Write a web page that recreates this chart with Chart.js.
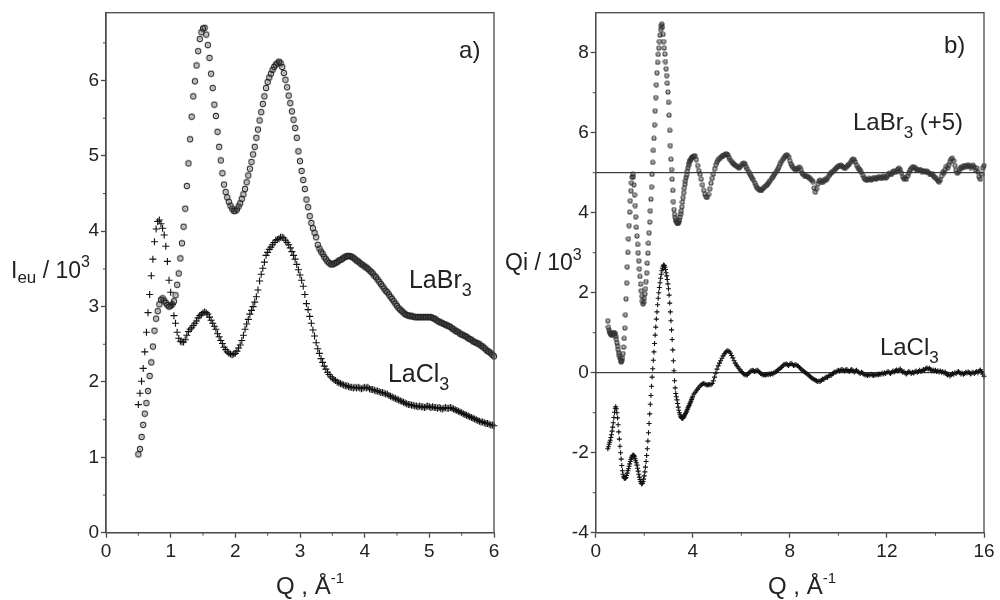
<!DOCTYPE html>
<html>
<head>
<meta charset="utf-8">
<title>LaBr3 / LaCl3 scattering</title>
<script src="https://cdn.jsdelivr.net/npm/chart.js@4"></script>
<style>
  html, body { margin: 0; padding: 0; background: #fff; }
  #wrap { position: relative; width: 1000px; height: 600px; }
  #wrap canvas { position: absolute; top: 0; }
  #panelA { left: 0; }
  #panelB { left: 500px; }
</style>
</head>
<body>
<div id="wrap">
  <canvas id="panelA" width="500" height="600"></canvas>
  <canvas id="panelB" width="500" height="600"></canvas>
</div>
<script>
const FONT = "'Liberation Sans', Arial, Helvetica, sans-serif";
const INK = '#222';
const AXIS = '#4a4a4a';

// ---- panel a): intensity in electron units, Q from 0.5 in steps of 0.025 ----
const qStartA = 0.5, qStepA = 0.025;
const ieuLaBr3 = [
  1.04,1.11,1.27,1.43,1.58,1.72,1.88,2.08,2.26,2.47,
  2.68,2.84,2.94,3.03,3.09,3.11,3.08,3.05,3.02,3.00,
  3.01,3.03,3.07,3.15,3.29,3.44,3.64,3.84,4.06,4.30,
  4.60,4.90,5.22,5.52,5.79,5.99,6.20,6.39,6.55,6.64,
  6.69,6.70,6.61,6.47,6.30,6.09,5.90,5.68,5.53,5.32,
  5.12,4.94,4.77,4.62,4.52,4.45,4.39,4.34,4.30,4.27,
  4.27,4.29,4.33,4.37,4.43,4.49,4.56,4.65,4.74,4.83,
  4.92,5.02,5.12,5.24,5.35,5.47,5.58,5.69,5.79,5.90,
  5.98,6.04,6.09,6.14,6.18,6.21,6.23,6.25,6.23,6.18,
  6.10,6.01,5.91,5.80,5.70,5.59,5.48,5.37,5.24,5.06,
  4.93,4.80,4.68,4.56,4.42,4.32,4.20,4.11,4.04,3.98,
  3.92,3.82,3.77,3.73,3.70,3.66,3.63,3.60,3.58,3.56,
  3.56,3.57,3.58,3.59,3.61,3.62,3.63,3.65,3.66,3.67,
  3.67,3.67,3.66,3.65,3.63,3.61,3.60,3.58,3.56,3.55,
  3.53,3.52,3.50,3.48,3.46,3.44,3.41,3.39,3.36,3.33,
  3.30,3.27,3.24,3.21,3.19,3.16,3.13,3.10,3.07,3.04,
  3.01,2.98,2.96,2.94,2.92,2.90,2.89,2.88,2.88,2.87,
  2.87,2.86,2.86,2.86,2.86,2.86,2.86,2.86,2.86,2.86,
  2.86,2.86,2.85,2.84,2.83,2.81,2.80,2.79,2.78,2.77,
  2.76,2.75,2.74,2.73,2.71,2.70,2.68,2.67,2.66,2.64,
  2.63,2.62,2.61,2.60,2.58,2.57,2.56,2.54,2.53,2.52,
  2.51,2.50,2.48,2.47,2.45,2.43,2.41,2.40,2.38,2.36,
  2.34
];
const ieuLaCl3 = [
  1.70,1.85,2.01,2.18,2.40,2.66,2.92,3.16,3.41,3.63,
  3.86,4.03,4.13,4.15,4.10,4.04,3.95,3.80,3.60,3.35,
  3.19,3.03,2.88,2.78,2.66,2.58,2.54,2.53,2.53,2.56,
  2.62,2.67,2.70,2.72,2.75,2.78,2.81,2.85,2.88,2.90,
  2.92,2.93,2.92,2.90,2.86,2.82,2.78,2.74,2.70,2.64,
  2.60,2.55,2.51,2.46,2.43,2.40,2.38,2.37,2.36,2.37,
  2.38,2.41,2.45,2.49,2.55,2.62,2.70,2.77,2.83,2.90,
  2.95,3.00,3.06,3.13,3.22,3.34,3.43,3.51,3.59,3.68,
  3.72,3.76,3.79,3.82,3.85,3.88,3.89,3.90,3.92,3.92,
  3.91,3.88,3.85,3.82,3.78,3.73,3.68,3.63,3.56,3.49,
  3.42,3.35,3.27,3.16,3.04,2.96,2.87,2.78,2.69,2.61,
  2.52,2.44,2.38,2.31,2.26,2.21,2.17,2.13,2.10,2.07,
  2.05,2.03,2.02,2.00,1.99,1.98,1.97,1.96,1.95,1.95,
  1.94,1.93,1.93,1.92,1.93,1.92,1.93,1.92,1.91,1.92,
  1.93,1.92,1.93,1.91,1.90,1.90,1.89,1.88,1.88,1.87,
  1.86,1.86,1.85,1.84,1.84,1.82,1.81,1.80,1.79,1.78,
  1.77,1.76,1.75,1.74,1.73,1.72,1.71,1.70,1.70,1.69,
  1.69,1.68,1.68,1.67,1.68,1.67,1.67,1.66,1.67,1.68,
  1.67,1.66,1.67,1.66,1.66,1.65,1.66,1.65,1.64,1.65,
  1.66,1.65,1.65,1.66,1.65,1.64,1.63,1.62,1.61,1.60,
  1.59,1.58,1.57,1.56,1.55,1.54,1.53,1.52,1.51,1.50,
  1.49,1.48,1.47,1.47,1.46,1.45,1.45,1.44,1.43,1.43,
  1.42
];

// ---- panel b): reduced intensity Qi; fine grid up to 4.0, coarser beyond ----
const qStartLow = 0.5, qStepLow = 0.025;
const qStartHigh = 4.05, qStepHigh = 0.05;
const qiLaBr3Low = [
  1.30,1.14,1.07,1.02,0.99,0.96,0.95,0.95,0.97,0.99,
  1.00,1.00,0.97,0.91,0.84,0.75,0.67,0.58,0.50,0.43,
  0.37,0.31,0.27,0.30,0.37,0.48,0.64,0.86,1.12,1.45,
  1.85,2.25,2.65,3.01,3.35,3.68,4.02,4.30,4.55,4.75,
  4.89,4.97,4.90,4.70,4.45,4.18,3.90,3.64,3.42,3.21,
  3.00,2.80,2.60,2.41,2.22,2.05,1.91,1.79,1.72,1.76,
  1.86,1.97,2.10,2.28,2.50,2.74,2.99,3.24,3.50,3.77,
  4.05,4.34,4.65,4.96,5.26,5.56,5.86,6.20,6.55,6.88,
  7.20,7.50,7.76,7.96,8.12,8.28,8.44,8.58,8.68,8.72,
  8.64,8.46,8.28,8.12,7.97,7.78,7.60,7.43,7.24,7.02,
  6.76,6.44,6.06,5.68,5.34,5.08,4.84,4.56,4.28,4.08,
  3.96,3.88,3.82,3.78,3.75,3.74,3.74,3.77,3.82,3.89,
  3.97,4.05,4.15,4.27,4.38,4.50,4.61,4.71,4.80,4.88,
  4.95,5.04,5.12,5.19,5.25,5.29,5.32,5.35,5.37,5.39,
  5.40
];
const qiLaBr3High = [
  5.42,5.42,5.33,5.18,5.05,4.96,4.84,4.70,4.56,4.46,
  4.40,4.39,4.46,4.60,4.74,4.86,4.97,5.10,5.20,5.27,
  5.32,5.36,5.38,5.41,5.43,5.45,5.47,5.47,5.44,5.38,
  5.32,5.28,5.24,5.21,5.19,5.17,5.14,5.13,5.15,5.19,
  5.23,5.24,5.22,5.15,5.09,5.03,4.97,4.92,4.87,4.82,
  4.75,4.68,4.63,4.60,4.57,4.56,4.58,4.61,4.64,4.67,
  4.70,4.73,4.77,4.81,4.86,4.90,4.95,4.99,5.04,5.09,
  5.15,5.22,5.28,5.33,5.37,5.41,5.44,5.44,5.40,5.30,
  5.22,5.17,5.12,5.09,5.08,5.10,5.13,5.14,5.08,5.00,
  4.96,4.93,4.92,4.91,4.90,4.88,4.85,4.82,4.78,4.62,
  4.52,4.60,4.72,4.79,4.82,4.78,4.76,4.80,4.84,4.82,
  4.86,4.92,4.96,5.00,5.03,5.05,5.08,5.11,5.14,5.16,
  5.18,5.19,5.17,5.14,5.12,5.13,5.16,5.19,5.22,5.26,
  5.31,5.34,5.33,5.27,5.19,5.13,5.10,5.07,5.01,4.94,
  4.88,4.84,4.82,4.83,4.86,4.84,4.82,4.85,4.88,4.86,
  4.84,4.87,4.90,4.89,4.86,4.88,4.92,4.90,4.87,4.90,
  4.95,4.99,4.96,4.98,5.03,5.05,5.01,5.04,5.09,5.11,
  5.08,5.00,4.90,4.85,4.88,4.84,4.92,5.00,5.06,5.10,
  5.14,5.15,5.13,5.10,5.07,5.06,5.08,5.06,5.03,5.05,
  5.04,5.02,5.04,5.01,4.98,4.96,4.98,4.94,4.90,4.88,
  4.85,4.80,4.78,4.82,4.92,5.02,5.00,5.08,5.16,5.12,
  5.20,5.28,5.34,5.36,5.30,5.18,5.06,4.99,5.02,5.10,
  5.14,5.12,5.16,5.18,5.15,5.18,5.20,5.17,5.13,5.16,
  5.19,5.14,5.06,5.12,5.02,4.90,4.84,4.96,5.12,5.18
];
const qiLaCl3Low = [
  -1.90,-1.85,-1.79,-1.74,-1.69,-1.62,-1.55,-1.46,-1.36,-1.25,
  -1.12,-0.99,-0.89,-0.85,-0.90,-1.00,-1.13,-1.30,-1.48,-1.66,
  -1.84,-2.00,-2.16,-2.32,-2.45,-2.54,-2.60,-2.63,-2.64,-2.64,
  -2.62,-2.57,-2.51,-2.45,-2.40,-2.34,-2.28,-2.22,-2.17,-2.13,
  -2.09,-2.07,-2.06,-2.07,-2.10,-2.15,-2.20,-2.25,-2.31,-2.39,
  -2.46,-2.54,-2.61,-2.67,-2.72,-2.76,-2.78,-2.76,-2.72,-2.66,
  -2.58,-2.48,-2.36,-2.22,-2.07,-1.90,-1.71,-1.50,-1.27,-1.03,
  -0.79,-0.57,-0.34,-0.11,0.10,0.31,0.52,0.73,0.94,1.14,
  1.34,1.52,1.70,1.86,2.00,2.13,2.25,2.36,2.46,2.55,
  2.61,2.66,2.69,2.68,2.64,2.58,2.50,2.42,2.33,2.22,
  2.10,1.94,1.74,1.52,1.30,1.07,0.83,0.57,0.30,0.05,
  -0.20,-0.38,-0.52,-0.60,-0.68,-0.77,-0.86,-0.94,-1.00,-1.05,
  -1.09,-1.12,-1.14,-1.14,-1.13,-1.11,-1.08,-1.05,-1.02,-0.99,
  -0.96,-0.92,-0.88,-0.85,-0.82,-0.78,-0.75,-0.71,-0.67,-0.63,
  -0.59
];
const qiLaCl3High = [
  -0.53,-0.49,-0.45,-0.41,-0.37,-0.33,-0.30,-0.28,-0.27,-0.28,
  -0.30,-0.31,-0.30,-0.29,-0.30,-0.27,-0.20,-0.11,-0.01,0.09,
  0.17,0.24,0.30,0.36,0.42,0.47,0.51,0.54,0.55,0.53,
  0.49,0.43,0.37,0.30,0.24,0.19,0.15,0.11,0.07,0.03,
  0.00,-0.03,-0.05,-0.06,-0.05,-0.02,0.02,0.05,0.06,0.05,
  0.03,0.05,0.06,0.04,0.01,-0.02,-0.04,-0.06,-0.05,-0.06,
  -0.04,-0.05,-0.03,-0.04,-0.02,-0.03,0.00,0.02,0.03,0.06,
  0.09,0.11,0.13,0.17,0.20,0.21,0.22,0.20,0.18,0.21,
  0.23,0.21,0.18,0.19,0.20,0.18,0.16,0.13,0.10,0.07,
  0.04,0.02,0.00,-0.02,-0.05,-0.08,-0.10,-0.13,-0.15,-0.17,
  -0.19,-0.20,-0.22,-0.21,-0.22,-0.19,-0.16,-0.17,-0.13,-0.11,
  -0.12,-0.08,-0.06,-0.07,-0.03,-0.01,0.02,0.01,0.04,0.06,
  0.04,0.07,0.08,0.06,0.04,0.07,0.08,0.05,0.03,0.06,
  0.08,0.05,0.02,0.04,0.06,0.03,0.00,-0.02,0.01,-0.01,
  -0.04,-0.06,-0.05,-0.07,-0.05,-0.06,-0.04,-0.06,-0.07,-0.05,
  -0.06,-0.04,-0.05,-0.03,-0.04,-0.01,-0.03,0.00,-0.02,0.01,
  0.03,0.00,-0.02,0.01,0.04,0.02,0.05,0.07,0.04,0.07,
  0.09,0.05,0.01,0.03,-0.01,-0.03,0.00,0.03,0.01,-0.02,
  0.01,-0.01,0.02,0.04,0.01,0.03,0.06,0.03,0.05,0.08,
  0.06,0.10,0.12,0.09,0.11,0.08,0.05,0.07,0.04,0.06,
  0.03,0.05,0.02,0.04,0.01,0.03,-0.01,0.02,-0.03,-0.06,
  -0.04,-0.08,-0.05,-0.02,-0.04,0.00,-0.02,0.01,0.03,0.00,
  -0.03,-0.01,-0.04,-0.02,0.01,-0.01,0.02,0.00,-0.03,-0.01,
  0.01,-0.02,0.01,0.03,0.00,0.04,0.07,0.03,-0.04,-0.09
];
// baselines of the two Qi curves (LaBr3 shifted by +5)
const offsetLevels = [0, 5];

// ---- axis ticks ----
const ticksAx = [0, 1, 2, 3, 4, 5, 6];
const minorAx = [0.5, 1.5, 2.5, 3.5, 4.5, 5.5];
const ticksAy = [0, 1, 2, 3, 4, 5, 6];
const minorAy = [0.5, 1.5, 2.5, 3.5, 4.5, 5.5, 6.5];
const ticksBx = [0, 4, 8, 12, 16];
const minorBx = [2, 6, 10, 14];
const ticksBy = [-4, -2, 0, 2, 4, 6, 8];
const minorBy = [-3, -1, 1, 3, 5, 7];

function toPoints(q0, dq, vals) {
  return vals.map((v, i) => ({ x: +(q0 + i * dq).toFixed(3), y: v }));
}

// open circle with a centre dot
function ringMarker(r, color) {
  const s = Math.ceil(2 * r + 2);
  const c = document.createElement('canvas');
  c.width = c.height = s;
  const g = c.getContext('2d');
  g.strokeStyle = color;
  g.lineWidth = 1.1;
  g.beginPath(); g.arc(s / 2, s / 2, r, 0, Math.PI * 2); g.stroke();
  g.fillStyle = color;
  g.beginPath(); g.arc(s / 2, s / 2, 0.75, 0, Math.PI * 2); g.fill();
  return c;
}

function drawRich(ctx, x, y, parts) {
  ctx.textAlign = 'left';
  ctx.textBaseline = 'alphabetic';
  ctx.fillStyle = INK;
  let cx = x;
  for (const p of parts) {
    ctx.font = p.size + 'px ' + FONT;
    ctx.fillText(p.t, cx, y + (p.dy || 0));
    cx += ctx.measureText(p.t).width;
  }
}

// frame, minor ticks, curve labels and axis titles
function makeDecor(cfg) {
  return {
    id: 'panelDecor',
    afterDraw(chart) {
      const { ctx, chartArea: a } = chart;
      const sx = chart.scales.x, sy = chart.scales.y;
      ctx.save();
      ctx.strokeStyle = AXIS;
      ctx.lineWidth = 1.3;
      ctx.strokeRect(a.left, a.top, a.right - a.left, a.bottom - a.top);
      ctx.lineWidth = 1;
      ctx.beginPath();
      cfg.minorX.forEach(v => {
        const px = sx.getPixelForValue(v);
        ctx.moveTo(px, a.bottom); ctx.lineTo(px, a.bottom + 3);
      });
      cfg.minorY.forEach(v => {
        const py = sy.getPixelForValue(v);
        ctx.moveTo(a.left, py); ctx.lineTo(a.left - 3, py);
      });
      ctx.stroke();
      cfg.labels.forEach(l => drawRich(ctx, sx.getPixelForValue(l.q), sy.getPixelForValue(l.v), l.parts));
      cfg.titles.forEach(t => drawRich(ctx, t.x, t.y, t.parts));
      ctx.restore();
    }
  };
}

function axis(min, max, ticks, fitProp, fitSize) {
  return {
    type: 'linear', min, max,
    afterBuildTicks: s => { s.ticks = ticks.map(v => ({ value: v })); },
    afterFit: s => {
      s[fitProp] = fitSize;
      s.paddingLeft = 0; s.paddingRight = 0; s.paddingTop = 0; s.paddingBottom = 0;
    },
    grid: { drawOnChartArea: false, drawTicks: true, tickLength: 5, tickColor: AXIS, tickWidth: 1.3 },
    border: { color: AXIS, width: 1.3 },
    ticks: {
      color: INK, font: { family: FONT, size: 19 }, padding: fitProp === 'height' ? 3 : 2,
      maxRotation: 0, autoSkip: false, callback: v => String(v)
    }
  };
}

Chart.defaults.font.family = FONT;
Chart.defaults.color = INK;

const common = {
  responsive: false,
  animation: false,
  devicePixelRatio: 1,
  events: [],
  plugins: { legend: { display: false }, tooltip: { enabled: false } }
};

// panel a)
new Chart(document.getElementById('panelA'), {
  type: 'scatter',
  data: {
    datasets: [
      {
        label: 'LaBr3', data: toPoints(qStartA, qStepA, ieuLaBr3),
        pointStyle: ringMarker(2.6, '#262626'), pointRadius: 3, clip: false
      },
      {
        label: 'LaCl3', data: toPoints(qStartA, qStepA, ieuLaCl3),
        pointStyle: 'cross', pointRadius: 3.5, borderColor: '#111', borderWidth: 1.1, clip: false
      }
    ]
  },
  options: Object.assign({}, common, {
    layout: { padding: { top: 12.7, right: 6, left: 0, bottom: 0 } },
    scales: {
      x: axis(0, 6, ticksAx, 'height', 67.3),
      y: axis(0, 6.9, ticksAy, 'width', 106)
    }
  }),
  plugins: [makeDecor({
    minorX: minorAx, minorY: minorAy,
    labels: [
      { q: 5.46, v: 6.30, parts: [{ t: 'a)', size: 24 }] },
      { q: 4.685, v: 3.25, parts: [{ t: 'LaBr', size: 25 }, { t: '3', size: 18, dy: 8 }] },
      { q: 4.36, v: 2.0, parts: [{ t: 'LaCl', size: 25 }, { t: '3', size: 18, dy: 8 }] }
    ],
    titles: [
      { x: 11, y: 278, parts: [{ t: 'I', size: 23 }, { t: 'eu', size: 17, dy: 5 }, { t: ' / 10', size: 23 }, { t: '3', size: 16, dy: -11 }] },
      { x: 276, y: 594, parts: [{ t: 'Q , Å', size: 24 }, { t: '-1', size: 15, dy: -11 }] }
    ]
  })]
});

// panel b)
const refLines = offsetLevels.map(lv => ({
  label: 'level ' + lv, data: [{ x: 0, y: lv }, { x: 16, y: lv }],
  showLine: true, pointRadius: 0, borderColor: '#111', borderWidth: 1, fill: false
}));

new Chart(document.getElementById('panelB'), {
  type: 'scatter',
  data: {
    datasets: [
      {
        label: 'LaBr3 (+5)',
        data: toPoints(qStartLow, qStepLow, qiLaBr3Low).concat(toPoints(qStartHigh, qStepHigh, qiLaBr3High)),
        pointStyle: ringMarker(2.0, '#333'), pointRadius: 2.5, clip: false
      },
      {
        label: 'LaCl3',
        data: toPoints(qStartLow, qStepLow, qiLaCl3Low).concat(toPoints(qStartHigh, qStepHigh, qiLaCl3High)),
        pointStyle: 'cross', pointRadius: 2.5, borderColor: '#111', borderWidth: 1.1, clip: false
      }
    ].concat(refLines)
  },
  options: Object.assign({}, common, {
    layout: { padding: { top: 12.7, right: 16, left: 0, bottom: 0 } },
    scales: {
      x: axis(0, 16, ticksBx, 'height', 67.3),
      y: axis(-4, 9, ticksBy, 'width', 95.7)
    }
  }),
  plugins: [makeDecor({
    minorX: minorBx, minorY: minorBy,
    labels: [
      { q: 14.35, v: 7.99, parts: [{ t: 'b)', size: 24 }] },
      { q: 10.6, v: 6.07, parts: [{ t: 'LaBr', size: 24 }, { t: '3', size: 17, dy: 8 }, { t: ' (+5)', size: 24 }] },
      { q: 11.71, v: 0.44, parts: [{ t: 'LaCl', size: 24 }, { t: '3', size: 17, dy: 8 }] }
    ],
    titles: [
      { x: 5, y: 270, parts: [{ t: 'Qi / 10', size: 23 }, { t: '3', size: 16, dy: -10 }] },
      { x: 268, y: 594, parts: [{ t: 'Q , Å', size: 24 }, { t: '-1', size: 15, dy: -11 }] }
    ]
  })]
});
</script>
</body>
</html>
